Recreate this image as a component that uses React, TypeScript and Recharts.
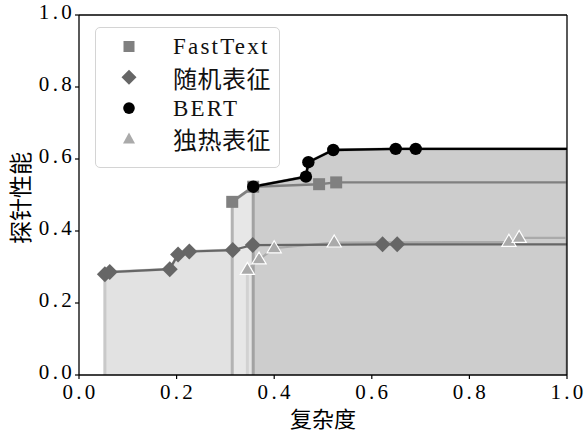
import React from 'react';
import { ComposedChart, Area, Line, Scatter, XAxis, YAxis, ReferenceLine } from 'recharts';

// ---- data ----
const xTicks = [0, 0.2, 0.4, 0.6, 0.8, 1.0];
const yTicks = [0, 0.2, 0.4, 0.6, 0.8, 1.0];

const fastTextX = [0.314, 0.357, 0.492, 0.527];
const fastTextY = [0.481, 0.523, 0.530, 0.535];

const randomX = [0.053, 0.063, 0.186, 0.203, 0.226, 0.315, 0.356, 0.622, 0.652];
const randomY = [0.280, 0.286, 0.294, 0.335, 0.343, 0.347, 0.361, 0.363, 0.363];

const bertX = [0.357, 0.465, 0.470, 0.521, 0.649, 0.690];
const bertY = [0.523, 0.551, 0.591, 0.625, 0.628, 0.628];

const onehotX = [0.345, 0.369, 0.400, 0.523, 0.881, 0.902];
const onehotY = [0.292, 0.321, 0.352, 0.368, 0.370, 0.381];

const X_MAX = 1.0;

type Pt = { x: number; y: number };
const pts = (xs: number[], ys: number[]): Pt[] => xs.map((x, i) => ({ x, y: ys[i] }));
const frontier = (p: Pt[]): Pt[] => [...p, { x: X_MAX, y: p[p.length - 1].y }];
const region = (p: Pt[]): Pt[] => [{ x: p[0].x, y: 0 }, ...frontier(p), { x: X_MAX, y: 0 }];

const fastPts = pts(fastTextX, fastTextY);
const randPts = pts(randomX, randomY);
const bertPts = pts(bertX, bertY);
const onePts = pts(onehotX, onehotY);

const FONT = "'Liberation Serif', 'DejaVu Serif', 'Noto Sans CJK SC', serif";
const CJK = "'Noto Sans CJK SC', sans-serif";

const C_FAST = '#808080';
const C_RAND = '#666666';
const C_BERT = '#000000';
const C_ONE = '#aaaaaa';

const Square = (props: any) => {
  const { cx, cy } = props;
  if (cx == null || cy == null) return null;
  return <rect x={cx - 6} y={cy - 6} width={12} height={12} fill={C_FAST} />;
};
const Diamond = (props: any) => {
  const { cx, cy } = props;
  if (cx == null || cy == null) return null;
  const r = 8;
  return <polygon points={`${cx},${cy - r} ${cx + r},${cy} ${cx},${cy + r} ${cx - r},${cy}`} fill={C_RAND} />;
};
const Circle = (props: any) => {
  const { cx, cy } = props;
  if (cx == null || cy == null) return null;
  return <circle cx={cx} cy={cy} r={6.2} fill={C_BERT} />;
};
const Triangle = (props: any) => {
  const { cx, cy } = props;
  if (cx == null || cy == null) return null;
  const r = 7.5;
  return (
    <polygon
      points={`${cx},${cy - r} ${cx + r * 0.95},${cy + r * 0.6} ${cx - r * 0.95},${cy + r * 0.6}`}
      fill={C_ONE}
      stroke="#ffffff"
      strokeWidth={1.2}
    />
  );
};

const legendItems = [
  { name: 'FastText', kind: 'square', cjk: false },
  { name: '随机表征', kind: 'diamond', cjk: true },
  { name: 'BERT', kind: 'circle', cjk: false },
  { name: '独热表征', kind: 'triangle', cjk: true },
];

const LegendBox = () => (
  <div
    style={{
      position: 'absolute',
      left: 95,
      top: 27,
      width: 185,
      height: 141,
      boxSizing: 'border-box',
      border: '1px solid #d4d4d4',
      borderRadius: 5,
      background: 'rgba(255,255,255,0.85)',
    }}
  >
    <svg width={183} height={139} style={{ display: 'block' }}>
      {legendItems.map((it, i) => {
        const cy = 18.5 + i * 30.8;
        const cx = 33;
        let m: React.ReactNode = null;
        if (it.kind === 'square') m = <rect x={cx - 5.5} y={cy - 5.5} width={11} height={11} fill={C_FAST} />;
        if (it.kind === 'diamond')
          m = <polygon points={`${cx},${cy - 7.5} ${cx + 7.5},${cy} ${cx},${cy + 7.5} ${cx - 7.5},${cy}`} fill={C_RAND} />;
        if (it.kind === 'circle') m = <circle cx={cx} cy={cy} r={5.8} fill={C_BERT} />;
        if (it.kind === 'triangle')
          m = <polygon points={`${cx},${cy - 6.5} ${cx + 6},${cy + 4.5} ${cx - 6},${cy + 4.5}`} fill={C_ONE} />;
        return (
          <g key={it.name}>
            {m}
            <text
              x={77}
              y={cy}
              dominantBaseline="central"
              fontFamily={it.cjk ? CJK : FONT}
              fontSize={it.cjk ? 24 : 23}
              fill="#111"
              letterSpacing={it.cjk ? 0.5 : 2.2}
            >
              {it.name}
            </text>
          </g>
        );
      })}
    </svg>
  </div>
);

const tickStyle = { fontSize: 21, fontFamily: FONT, fill: '#000', letterSpacing: 3.3 };

export default function App() {
  return (
    <div style={{ position: 'absolute', left: 0, top: 0, width: 587, height: 434, background: '#fff' }}>
      <ComposedChart width={587} height={434} margin={{ top: 15, right: 20, bottom: 0, left: 0 }}>
        <XAxis
          dataKey="x"
          type="number"
          domain={[0, 1]}
          ticks={xTicks}
          allowDataOverflow
          tickFormatter={(v: number) => v.toFixed(1)}
          height={59}
          tickSize={4}
          tickMargin={5}
          stroke="#000"
          axisLine={{ stroke: '#000', strokeWidth: 1.3 }}
          tickLine={{ stroke: '#000', strokeWidth: 1.2 }}
          tick={{ ...tickStyle, dx: 1.5 }}
          label={{ value: '复杂度', position: 'insideBottom', offset: 7, style: { fontSize: 22, fontFamily: CJK, fill: '#000' } }}
        />
        <YAxis
          type="number"
          domain={[0, 1]}
          ticks={yTicks}
          allowDataOverflow
          tickFormatter={(v: number) => v.toFixed(1)}
          width={79}
          tickSize={4}
          tickMargin={0}
          stroke="#000"
          axisLine={{ stroke: '#000', strokeWidth: 1.3 }}
          tickLine={{ stroke: '#000', strokeWidth: 1.2 }}
          tick={{ ...tickStyle, dy: -3 }}
          label={{
            content: () => (
              <text
                x={19}
                y={198}
                transform="rotate(-90 19 198)"
                textAnchor="middle"
                dominantBaseline="central"
                fontSize={23}
                fontFamily={CJK}
                fill="#000"
              >
                探针性能
              </text>
            ),
          }}
        />

        {/* filled regions */}
        <Area data={region(randPts)} dataKey="y" type="linear" fill="#e2e2e2" fillOpacity={1} stroke="#c9c9c9" strokeWidth={3} isAnimationActive={false} dot={false} activeDot={false} />
        <Area data={region(fastPts)} dataKey="y" type="linear" fill="#e7e7e7" fillOpacity={1} stroke="#b3b3b3" strokeWidth={3} isAnimationActive={false} dot={false} activeDot={false} />
        <Area data={region(onePts)} dataKey="y" type="linear" fill="#e4e4e4" fillOpacity={1} stroke="#d2d2d2" strokeWidth={3} isAnimationActive={false} dot={false} activeDot={false} />
        <Area data={region(bertPts)} dataKey="y" type="linear" fill="#cdcdcd" fillOpacity={1} stroke="#a2a2a2" strokeWidth={3} isAnimationActive={false} dot={false} activeDot={false} />

        {/* frontier lines */}
        <Line data={frontier(onePts)} dataKey="y" type="linear" stroke={C_ONE} strokeWidth={2.2} dot={false} activeDot={false} isAnimationActive={false} />
        <Line data={frontier(randPts)} dataKey="y" type="linear" stroke={C_RAND} strokeWidth={2.2} dot={false} activeDot={false} isAnimationActive={false} />
        <Line data={frontier(fastPts)} dataKey="y" type="linear" stroke={C_FAST} strokeWidth={2.4} dot={false} activeDot={false} isAnimationActive={false} />
        <Line data={frontier(bertPts)} dataKey="y" type="linear" stroke={C_BERT} strokeWidth={2.4} dot={false} activeDot={false} isAnimationActive={false} />

        {/* markers */}
        <Scatter data={randPts} dataKey="y" shape={Diamond} isAnimationActive={false} />
        <Scatter data={onePts} dataKey="y" shape={Triangle} isAnimationActive={false} />
        <Scatter data={fastPts} dataKey="y" shape={Square} isAnimationActive={false} />
        <Scatter data={bertPts} dataKey="y" shape={Circle} isAnimationActive={false} />

        {/* frame */}
        <ReferenceLine y={1} stroke="#000" strokeWidth={1.3} />
        <ReferenceLine x={1} stroke="#000" strokeWidth={1.3} />
      </ComposedChart>
      <LegendBox />
    </div>
  );
}
